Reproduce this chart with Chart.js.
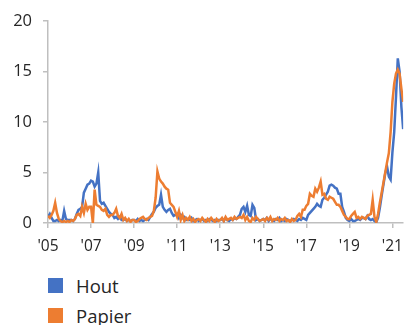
<!DOCTYPE html>
<html>
<head>
<meta charset="utf-8">
<script src="https://cdn.jsdelivr.net/npm/chart.js@4"></script>
<style>
    html, body { margin: 0; padding: 0; background: #fff; }
    body { width: 412px; height: 325px; overflow: hidden; font-family: "Open Sans", sans-serif; }
    #wrap { position: relative; width: 412px; height: 262px; }
    #legend { margin: 0; padding: 8px 0 0 48px; list-style: none; }
    #legend li { display: flex; align-items: center; height: 30px; font-size: 18.5px; color: #262626; }
    #legend span { display: inline-block; width: 15px; height: 15px; margin-right: 13px; }
</style>
</head>
<body>
<div id="wrap"><canvas id="chart"></canvas></div>
<ul id="legend"></ul>
<script>
// monthly values, Jan 2005 .. Jul 2021
const startYear = 2005;
const seriesNames = ['Hout', 'Papier'];
const seriesColors = ['#4472C4', '#ED7D31'];
const xTickYears = [2005, 2007, 2009, 2011, 2013, 2015, 2017, 2019, 2021];
const yTicks = [0, 5, 10, 15, 20];

const hout = [
    0.6, 0.9, 0.5, 0.2, 0.2, 0.3, 0.2, 0.3, 0.2, 1.2, 0.4, 0.3,
    0.3, 0.3, 0.2, 0.4, 0.9, 1.3, 1.4, 1.6, 3.0, 3.4, 3.8, 3.9,
    4.2, 4.1, 3.6, 3.9, 5.0, 2.2, 1.9, 2.0, 1.7, 1.4, 1.1, 0.9,
    0.8, 0.5, 0.6, 0.4, 0.6, 0.3, 0.3, 0.4, 0.2, 0.3, 0.2, 0.3,
    0.3, 0.2, 0.4, 0.2, 0.3, 0.2, 0.3, 0.4, 0.3, 0.6, 0.9, 1.1,
    1.5, 1.7, 1.8, 2.8, 1.6, 1.3, 1.1, 1.3, 1.4, 1.0, 0.7, 0.8,
    0.9, 0.5, 0.8, 0.5, 0.6, 0.3, 0.4, 0.3, 0.5, 0.2, 0.3, 0.4,
    0.2, 0.3, 0.4, 0.2, 0.3, 0.2, 0.4, 0.3, 0.2, 0.3, 0.2, 0.3,
    0.3, 0.4, 0.2, 0.5, 0.3, 0.2, 0.4, 0.3, 0.5, 0.4, 0.6, 0.8,
    1.4, 1.6, 1.1, 1.7, 0.8, 0.7, 1.8, 1.5, 0.3, 0.4, 0.2, 0.3,
    0.4, 0.3, 0.5, 0.2, 0.4, 0.3, 0.2, 0.4, 0.3, 0.5, 0.2, 0.3,
    0.2, 0.4, 0.3, 0.2, 0.3, 0.4, 0.3, 0.2, 0.4, 0.3, 0.5, 0.4,
    0.3, 0.8, 1.0, 1.2, 1.4, 1.6, 1.9, 1.7, 1.6, 2.3, 2.5, 2.8,
    3.1, 3.7, 3.8, 3.7, 3.5, 3.4, 2.9, 2.9, 1.6, 1.1, 0.5, 0.3,
    0.2, 0.4, 0.2, 0.2, 0.3, 0.4, 0.3, 0.5, 0.5, 0.4, 0.7, 0.4,
    0.3, 0.4, 0.2, 0.1, 0.5, 1.5, 2.7, 3.8, 4.9, 5.6, 4.6, 4.3,
    7.0, 9.0, 12.5, 16.3, 15.0, 11.5, 9.3
];

const papier = [
    0.7, 0.5, 0.8, 1.2, 2.0, 1.0, 0.4, 0.2, 0.1, 0.2, 0.1, 0.2,
    0.1, 0.3, 0.2, 0.4, 0.8, 0.9, 0.7, 1.6, 1.0, 1.9, 1.3, 1.6,
    1.6, 0.0, 3.3, 1.8, 1.7, 1.6, 1.3, 1.2, 1.4, 0.8, 0.6, 0.8,
    0.8, 1.0, 1.4, 0.7, 0.5, 0.9, 0.3, 0.5, 0.2, 0.4, 0.1, 0.3,
    0.3, 0.1, 0.2, 0.4, 0.5, 0.6, 0.4, 0.3, 0.5, 0.6, 0.7, 1.2,
    2.5, 5.1, 4.4, 4.1, 3.9, 3.6, 3.4, 3.3, 2.0, 1.8, 1.6, 1.1,
    0.6, 1.2, 0.3, 0.8, 0.2, 0.5, 0.3, 0.6, 0.2, 0.4, 0.1, 0.3,
    0.4, 0.2, 0.5, 0.3, 0.1, 0.4, 0.2, 0.5, 0.3, 0.1, 0.4, 0.2,
    0.3, 0.5, 0.2, 0.6, 0.3, 0.4, 0.5, 0.3, 0.6, 0.4, 0.5, 0.6,
    0.5, 0.8, 0.3, 0.6, 0.2, 0.1, 0.5, 0.3, 0.6, 0.4, 0.2, 0.3,
    0.4, 0.2, 0.5, 0.3, 0.6, 0.2, 0.4, 0.3, 0.5, 0.2, 0.4, 0.3,
    0.5, 0.2, 0.3, 0.1, 0.4, 0.2, 0.3, 0.7, 0.9, 0.6, 1.3, 1.3,
    1.7, 1.9, 2.9, 2.7, 2.6, 3.4, 3.1, 3.5, 4.1, 2.8, 2.9, 2.4,
    2.3, 2.6, 2.5, 2.4, 2.1, 1.8, 1.8, 1.6, 1.2, 0.8, 0.6, 0.4,
    0.4, 0.7, 0.9, 1.1, 0.5, 0.6, 0.4, 0.6, 0.5, 0.4, 0.7, 0.8,
    0.9, 2.3, 0.6, 0.1, 0.9, 2.0, 3.0, 4.0, 5.0, 6.0, 6.9, 9.0,
    12.0, 13.8, 14.8, 15.2, 14.8, 13.3, 12.0
];

const toPoints = arr => arr.map((v, i) => ({ x: startYear + i / 12, y: v }));
const lastX = startYear + (hout.length - 1) / 12;

const axisColor = '#bfbfbf';
const textColor = '#262626';

const ctx = document.getElementById('chart').getContext('2d');
new Chart(ctx, {
    type: 'line',
    data: {
        datasets: [hout, papier].map((arr, i) => ({
            label: seriesNames[i],
            data: toPoints(arr),
            borderColor: seriesColors[i],
            backgroundColor: seriesColors[i],
            borderWidth: 2.5,
            pointRadius: 0,
            tension: 0,
            order: i === 0 ? 1 : 0
        }))
    },
    options: {
        responsive: true,
        maintainAspectRatio: false,
        animation: false,
        layout: {
            padding: { top: 21, right: 1, left: 0, bottom: 0 }
        },
        plugins: {
            legend: { display: false },
            tooltip: { enabled: false }
        },
        scales: {
            x: {
                type: 'linear',
                min: startYear,
                max: lastX,
                afterBuildTicks: scale => {
                    scale.ticks = xTickYears.map(v => ({ value: v }));
                },
                afterFit: scale => { scale.height = 39; },
                grid: { drawOnChartArea: false, drawTicks: true, tickLength: 5, color: axisColor, lineWidth: 1.5 },
                border: { color: axisColor, width: 1.5 },
                ticks: {
                    autoSkip: false,
                    maxRotation: 0,
                    padding: 9,
                    color: textColor,
                    font: { family: 'Open Sans', size: 15.5 },
                    callback: v => "'" + String(v).slice(2)
                }
            },
            y: {
                min: 0,
                max: 20,
                afterBuildTicks: scale => {
                    scale.ticks = yTicks.map(v => ({ value: v }));
                },
                afterFit: scale => { scale.width = 48; },
                grid: { drawOnChartArea: false, drawTicks: true, tickLength: 5, color: axisColor, lineWidth: 1.5 },
                border: { color: axisColor, width: 1.5 },
                ticks: {
                    padding: 11,
                    color: textColor,
                    font: { family: 'Open Sans', size: 16.5 }
                }
            }
        }
    }
});

const legend = document.getElementById('legend');
seriesNames.forEach((name, i) => {
    legend.insertAdjacentHTML('beforeend',
        `<li><span style="background:${seriesColors[i]}"></span>${name}</li>`);
});
</script>
</body>
</html>
